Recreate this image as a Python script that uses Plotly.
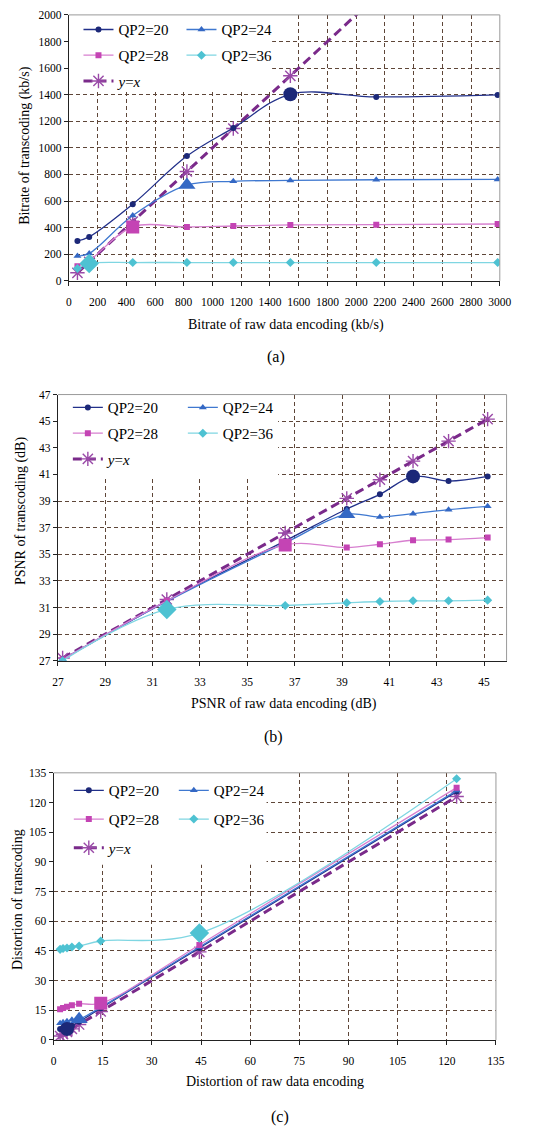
import plotly.graph_objects as go

# ---------------- data ----------------
# (a) bitrate
a_x = [60, 142, 445, 822, 1145, 1542, 2140, 2985]
a_qp20 = [300, 330, 576, 938, 1150, 1403, 1383, 1398]
a_qp24 = [186, 206, 491, 720, 748, 755, 760, 762]
a_qp28 = [110, 152, 405, 405, 412, 420, 422, 427]
a_qp36 = [92, 130, 137, 137, 137, 137, 137, 137]
a_xticks = list(range(0, 3001, 200))
a_yticks = list(range(0, 2001, 200))

# (b) PSNR
b_x = [27.2, 31.6, 36.6, 39.2, 40.6, 42.0, 43.5, 45.15]
b_qp20 = [27.1, 31.5, 36.0, 38.4, 39.5, 40.85, 40.5, 40.85]
b_qp24 = [27.1, 31.45, 35.85, 38.0, 37.8, 38.05, 38.35, 38.6]
b_qp28 = [27.1, 31.5, 35.7, 35.5, 35.75, 36.05, 36.1, 36.25]
b_qp36 = [27.0, 30.85, 31.15, 31.35, 31.45, 31.5, 31.5, 31.55]
b_xticks = list(range(27, 46, 2))
b_yticks = list(range(27, 48, 2))

# (c) distortion
c_x = [2.0, 2.9, 4.1, 5.6, 7.8, 14.4, 44.5, 123.0]
c_qp20 = [5.5, 6.0, 5.5, 7.2, 9.2, 16.0, 46.5, 125.5]
c_qp24 = [8.5, 9.0, 9.5, 10.2, 10.5, 16.5, 47.0, 126.0]
c_qp28 = [15.5, 16.2, 16.8, 17.5, 18.3, 18.5, 48.0, 127.5]
c_qp36 = [45.8, 46.2, 46.5, 47.0, 47.5, 50.0, 54.0, 132.0]
c_ticks = list(range(0, 136, 15))

series_names = ["QP2=20", "QP2=24", "QP2=28", "QP2=36"]
# index of enlarged (switch) point per series, per panel
a_big = [5, 3, 2, 1]
b_big = [5, 3, 2, 1]
c_big = [2, 4, 5, 6]

# ---------------- style ----------------
W, H = 535, 1136
SERIF = "Liberation Serif"
styles = [
    dict(line="#22308a", marker="#1c2878", symbol="circle", ms=6, big=14),
    dict(line="#3f78d0", marker="#3468c4", symbol="triangle-up", ms=7, big=15),
    dict(line="#d77fcf", marker="#c444b4", symbol="square", ms=6, big=13),
    dict(line="#7fd6e2", marker="#4ec2d2", symbol="diamond", ms=7, big=15),
]
YX_LINE = "#7a2a8a"
YX_MARK = "#9a4aa8"
GRID = "#5e4638"


def px_x(p):
    return p / W


def px_y(p):
    return 1 - p / H


panels = [
    dict(xs="x", ys="y", xa="xaxis", ya="yaxis",
         dom_x=(65, 511), dom_y=(9, 277.7), xr=[0, 3000], yr=[0, 2000],
         xt=a_xticks, yt=a_yticks, x=a_x, ys_data=[a_qp20, a_qp24, a_qp28, a_qp36], big=a_big,
         box=dict(x0=0, x1=1415, y0=1420, y1=2000),
         xtitle="Bitrate of raw data encoding (kb/s)", xtitle_pos=(290, 322),
         ytitle="Bitrate of transcoding (kb/s)", ytitle_pos=(19, 141),
         cap="(a)", cap_pos=(279, 355), ew=58,
         leg_rows=(24, 50, 76), leg_x=75, leg_names=("legend", "legend2", "legend3")),
    dict(xs="x2", ys="y2", xa="xaxis2", ya="yaxis2",
         dom_x=(53.7, 518), dom_y=(392.7, 661.7), xr=[27, 45.95], yr=[27, 47],
         xt=b_xticks, yt=b_yticks, x=b_x, ys_data=[b_qp20, b_qp24, b_qp28, b_qp36], big=b_big,
         box=dict(x0=27, x1=36.3, y0=40.85, y1=47),
         xtitle="PSNR of raw data encoding (dB)", xtitle_pos=(288, 705),
         ytitle="PSNR of transcoding (dB)", ytitle_pos=(15, 510),
         cap="(b)", cap_pos=(277, 739), ew=70,
         leg_rows=(406, 432, 458), leg_x=64, leg_names=("legend4", "legend5", "legend6")),
    dict(xs="x3", ys="y3", xa="xaxis3", ya="yaxis3",
         dom_x=(49.2, 507), dom_y=(775, 1045), xr=[0, 135], yr=[0, 135],
         xt=c_ticks, yt=c_ticks, x=c_x, ys_data=[c_qp20, c_qp24, c_qp28, c_qp36], big=c_big,
         box=dict(x0=0, x1=65, y0=88.5, y1=135),
         xtitle="Distortion of raw data encoding", xtitle_pos=(278, 1087),
         ytitle="Distortion of transcoding", ytitle_pos=(12, 903),
         cap="(c)", cap_pos=(284, 1123), ew=60,
         leg_rows=(793, 822, 851), leg_x=65, leg_names=("legend7", "legend8", "legend9")),
]

fig = go.Figure()
layout = dict(
    width=W, height=H, margin=dict(l=0, r=0, t=0, b=0),
    paper_bgcolor="white", plot_bgcolor="white",
    font=dict(family=SERIF, color="black", size=12),
    showlegend=True, shapes=[], annotations=[],
)

for p in panels:
    lg = p["leg_names"]
    row_of = [lg[0], lg[0], lg[1], lg[1]]
    # y = x reference line
    fig.add_trace(go.Scatter(
        x=p["x"], y=p["x"], xaxis=p["xs"], yaxis=p["ys"], name="<i>y</i>=<i>x</i>",
        mode="lines+markers", legend=lg[2],
        line=dict(color=YX_LINE, width=3, dash="9px,5px"),
        marker=dict(symbol="asterisk-open", size=12, color=YX_MARK, line=dict(color=YX_MARK, width=1.4)),
    ))
    for i, (name, st, yv) in enumerate(zip(series_names, styles, p["ys_data"])):
        fig.add_trace(go.Scatter(
            x=p["x"], y=yv, xaxis=p["xs"], yaxis=p["ys"], name=name,
            mode="lines+markers", legend=row_of[i],
            line=dict(color=st["line"], width=1.3, shape="spline", smoothing=1.0),
            marker=dict(symbol=st["symbol"], size=st["ms"], color=st["marker"]),
        ))
    for i, (st, yv) in enumerate(zip(styles, p["ys_data"])):
        k = p["big"][i]
        fig.add_trace(go.Scatter(
            x=[p["x"][k]], y=[yv[k]], xaxis=p["xs"], yaxis=p["ys"], showlegend=False,
            mode="markers", marker=dict(symbol=st["symbol"], size=st["big"], color=st["marker"]),
        ))

    axis_common = dict(
        showgrid=True, gridcolor=GRID, gridwidth=1, griddash="4px,3px",
        zeroline=False, showline=True, linecolor="#222", linewidth=1,
        ticks="outside", ticklen=4, tickcolor="#222",
        tickfont=dict(family=SERIF, size=11.5, color="black"),
    )
    layout[p["xa"]] = dict(
        axis_common, domain=[px_x(p["dom_x"][0]), px_x(p["dom_x"][1])],
        range=p["xr"], tickvals=p["xt"], anchor=p["ys"], ticklabelstandoff=6,
    )
    layout[p["ya"]] = dict(
        axis_common, domain=[px_y(p["dom_y"][1]), px_y(p["dom_y"][0])],
        range=p["yr"], tickvals=p["yt"], anchor=p["xs"],
    )
    xd = p["xs"] + " domain"
    yd = p["ys"] + " domain"
    # white box under legend (hides gridlines)
    b = p["box"]
    layout["shapes"].append(dict(type="rect", xref=p["xs"], yref=p["ys"], layer="between",
                                 x0=b["x0"], x1=b["x1"], y0=b["y0"], y1=b["y1"],
                                 fillcolor="white", line=dict(width=0)))
    # light border top & right
    layout["shapes"].append(dict(type="line", xref=xd, yref=yd, x0=0, x1=1, y0=1, y1=1,
                                 line=dict(color="#9a9a9a", width=1), layer="above"))
    layout["shapes"].append(dict(type="line", xref=xd, yref=yd, x0=1, x1=1, y0=0, y1=1,
                                 line=dict(color="#9a9a9a", width=1), layer="above"))
    # titles
    layout["annotations"].append(dict(
        text=p["xtitle"], xref="paper", yref="paper", showarrow=False,
        x=px_x(p["xtitle_pos"][0]), y=px_y(p["xtitle_pos"][1]), xanchor="center", yanchor="middle",
        font=dict(family=SERIF, size=14, color="black")))
    layout["annotations"].append(dict(
        text=p["ytitle"], xref="paper", yref="paper", showarrow=False, textangle=-90,
        x=px_x(p["ytitle_pos"][0]), y=px_y(p["ytitle_pos"][1]), xanchor="center", yanchor="middle",
        font=dict(family=SERIF, size=14, color="black")))
    layout["annotations"].append(dict(
        text=p["cap"], xref="paper", yref="paper", showarrow=False,
        x=px_x(p["cap_pos"][0]), y=px_y(p["cap_pos"][1]), xanchor="center", yanchor="middle",
        font=dict(family=SERIF, size=16, color="black")))
    # legends: one per row
    for nm, ry in zip(lg, p["leg_rows"]):
        layout[nm] = dict(
            orientation="h", x=px_x(p["leg_x"]), y=px_y(ry), xanchor="left", yanchor="middle",
            xref="paper", yref="paper", bgcolor="rgba(0,0,0,0)", borderwidth=0,
            entrywidth=p["ew"], entrywidthmode="pixels", itemwidth=30, tracegroupgap=0,
            font=dict(family=SERIF, size=15, color="black"),
        )

fig.update_layout(**layout)
fig.write_html("out.html", config={"displayModeBar": False},
               post_script="document.body.style.margin='0';document.body.style.overflow='hidden';")
